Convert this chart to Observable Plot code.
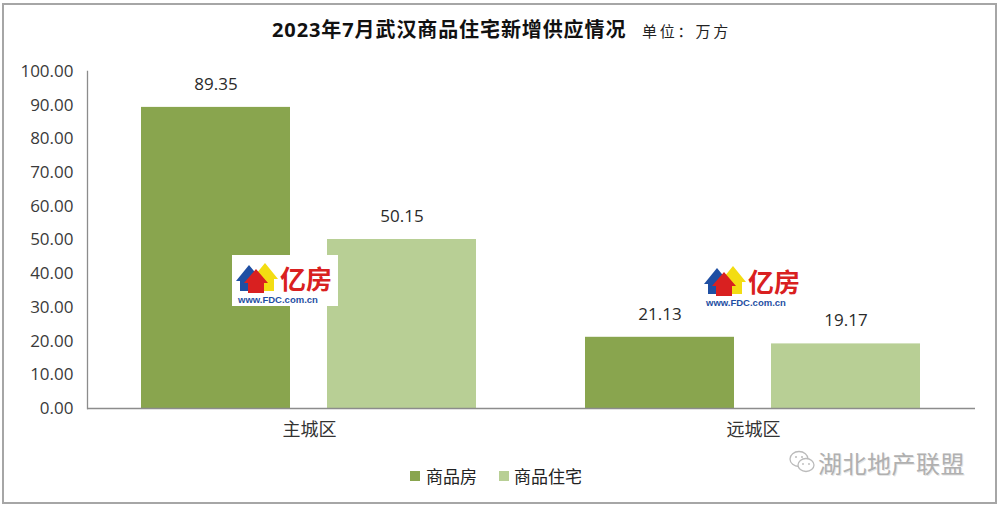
<!DOCTYPE html>
<html>
<head>
<meta charset="utf-8">
<script src="https://cdn.jsdelivr.net/npm/d3@7"></script>
<script src="https://cdn.jsdelivr.net/npm/@observablehq/plot@0.6"></script>
<style>
  html, body { margin: 0; padding: 0; background: #fff; }
  #wrap { position: relative; width: 1000px; height: 509px; overflow: hidden; font-family: "Noto Sans CJK SC", sans-serif; }
  #border { position: absolute; left: 2px; top: 3px; width: 991px; height: 497px; border: 2px solid #a6a6a6; }
  #title { position: absolute; left: 272px; top: 16px; font-size: 20px; font-weight: 700; letter-spacing: 0.9px; color: #111; white-space: nowrap; line-height: 28px; font-family: "Open Sans", "Noto Sans CJK SC", sans-serif; }
  #unit { position: absolute; left: 642px; top: 19px; font-size: 15px; letter-spacing: 2.8px; color: #222; white-space: nowrap; line-height: 24px; }
  #chart { position: absolute; left: 0; top: 50px; }
  .leg { position: absolute; top: 464px; font-size: 17px; color: #222; white-space: nowrap; line-height: 24px; }
  .sw { position: absolute; top: 471px; width: 10px; height: 10px; }
  #wm { position: absolute; left: 818px; top: 447px; font-size: 24px; color: #b0b0b0; letter-spacing: 0.5px; white-space: nowrap; text-shadow: 1px 1px 0 #e6e6e6; line-height: 32px; }
  #wmicon { position: absolute; left: 788px; top: 448px; }
  .logo { position: absolute; }
</style>
</head>
<body>
<div id="wrap">
  <div id="border"></div>
  <div id="title">2023年7月武汉商品住宅新增供应情况</div>
  <div id="unit">单位：万方</div>
  <div id="chart"></div>
  <div class="sw" id="sw0" style="left:410px"></div>
  <div class="leg" style="left:426px">商品房</div>
  <div class="sw" id="sw1" style="left:499px"></div>
  <div class="leg" style="left:514px">商品住宅</div>
  <svg id="wmicon" width="30" height="30" viewBox="0 0 30 30">
    <ellipse cx="11" cy="11" rx="9" ry="7.5" fill="none" stroke="#bbb" stroke-width="1.3"/>
    <ellipse cx="18" cy="17" rx="8" ry="6.5" fill="#fff" stroke="#bbb" stroke-width="1.3"/>
    <circle cx="8" cy="9" r="1" fill="#bbb"/><circle cx="14" cy="9" r="1" fill="#bbb"/>
    <circle cx="15" cy="16" r="0.9" fill="#bbb"/><circle cx="21" cy="16" r="0.9" fill="#bbb"/>
  </svg>
  <div id="wm">湖北地产联盟</div>

  <div class="logo" style="left:232px; top:255px; width:106px; height:51px; background:#fff;">
    <svg width="106" height="51" viewBox="0 0 106 51">
      <polygon points="4,26 17,10 30,26 26,26 26,36 8,36 8,26" fill="#1f4fa3"/>
      <polygon points="20,24 33,8 46,24 42,24 42,36 24,36 24,24" fill="#f3dd12"/>
      <polygon points="12,28 24,14 36,28 32,28 32,38 16,38 16,28" fill="#d92020"/>
      <text x="48" y="34" font-size="26" font-weight="700" fill="#d92020" font-family="Noto Sans CJK SC">亿房</text>
      <text x="6" y="48" font-size="9.5" font-weight="700" fill="#1f4fa3" font-family="Liberation Sans">www.FDC.com.cn</text>
    </svg>
  </div>
  <div class="logo" style="left:700px; top:258px; width:106px; height:51px;">
    <svg width="106" height="51" viewBox="0 0 106 51">
      <polygon points="4,26 17,10 30,26 26,26 26,36 8,36 8,26" fill="#1f4fa3"/>
      <polygon points="20,24 33,8 46,24 42,24 42,36 24,36 24,24" fill="#f3dd12"/>
      <polygon points="12,28 24,14 36,28 32,28 32,38 16,38 16,28" fill="#d92020"/>
      <text x="48" y="34" font-size="26" font-weight="700" fill="#d92020" font-family="Noto Sans CJK SC">亿房</text>
      <text x="6" y="48" font-size="9.5" font-weight="700" fill="#1f4fa3" font-family="Liberation Sans">www.FDC.com.cn</text>
    </svg>
  </div>
</div>
<script>
// ---- data ----
const categories = ["主城区", "远城区"];
const series = ["商品房", "商品住宅"];
const valuesShangpinfang = [89.35, 21.13];
const valuesZhuzhai = [50.15, 19.17];
const yTicks = [0, 10, 20, 30, 40, 50, 60, 70, 80, 90, 100];
const colors = ["#89a54e", "#b8cf95"];

const rows = [];
categories.forEach((c, i) => {
  rows.push({cat: c, s: series[0], v: valuesShangpinfang[i]});
  rows.push({cat: c, s: series[1], v: valuesZhuzhai[i]});
});

document.getElementById("sw0").style.background = colors[0];
document.getElementById("sw1").style.background = colors[1];

const numFont = "'Open Sans', sans-serif";
const chart = Plot.plot({
  width: 1000,
  height: 400,
  marginLeft: 86,
  marginRight: 25,
  marginTop: 21,
  marginBottom: 42,
  style: {background: "transparent", overflow: "visible"},
  fx: {domain: categories, padding: 0, label: null},
  x: {domain: series, paddingInner: 0.198, paddingOuter: 0.2875, axis: null},
  y: {domain: [0, 100], axis: null},
  color: {domain: series, range: colors},
  marks: [
    Plot.barY(rows, {fx: "cat", x: "s", y: "v", fill: "s"}),
    Plot.ruleY([0], {stroke: "#8c8c8c", strokeWidth: 1.3}),
    Plot.frame({anchor: "left", facetAnchor: "left", stroke: "#8c8c8c", strokeWidth: 1.3}),
    Plot.axisY({ticks: yTicks, tickSize: 0, tickPadding: 14, tickFormat: d => d.toFixed(2),
      fontSize: 17, fontFamily: numFont, fill: "#3a3a3a", label: null}),
    Plot.axisFx({anchor: "bottom", tickSize: 0, tickPadding: 15, fontSize: 18,
      fontFamily: "Noto Sans CJK SC", fill: "#333", label: null}),
    Plot.text(rows, {fx: "cat", x: "s", y: "v", text: d => d.v.toFixed(2), dy: -23,
      fontSize: 17, fontFamily: numFont, fill: "#2a2a2a"})
  ]
});
document.getElementById("chart").appendChild(chart);
</script>
</body>
</html>
